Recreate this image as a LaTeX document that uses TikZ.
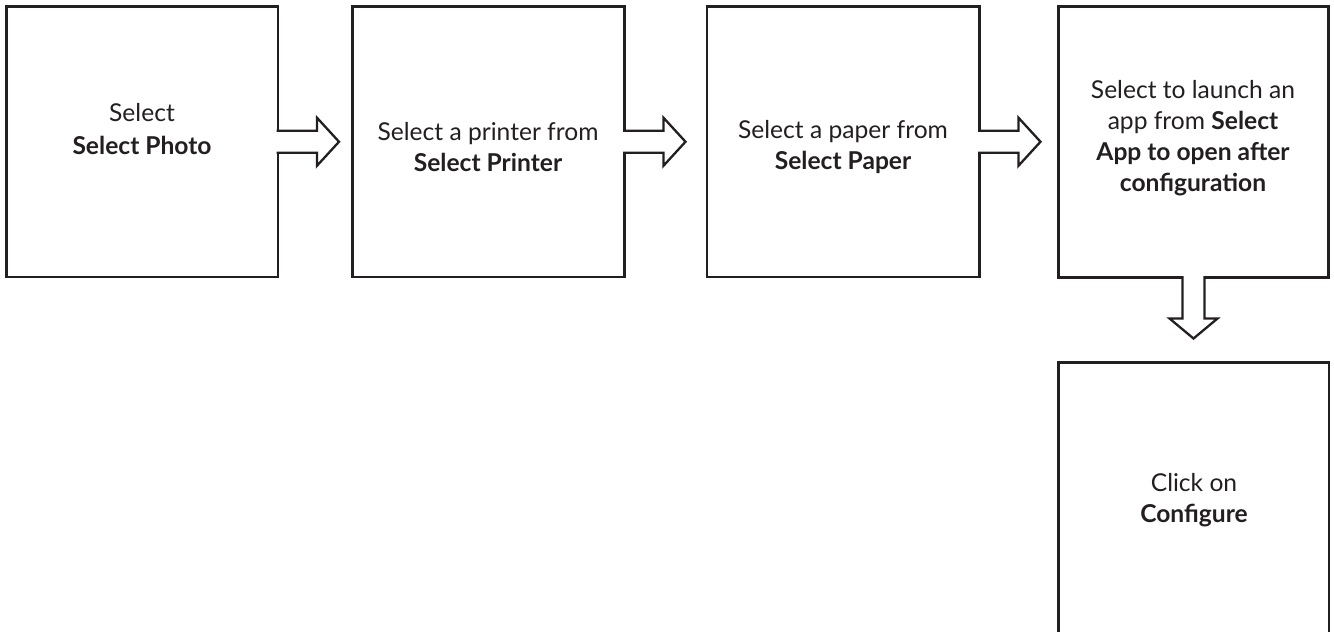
\documentclass[tikz,border=0pt]{standalone}
\usepackage{fontspec}
\setmainfont{Lato}
\usetikzlibrary{calc}
\definecolor{ink}{HTML}{231F20}
\begin{document}
\begin{tikzpicture}[x=0.5pt,y=-0.5pt,
  box/.style={draw=ink,line width=1.15pt,fill=white,inner sep=0pt,outer sep=0pt},
  arr/.style={draw=ink,fill=white,line width=1.15pt,line join=miter},
  txt/.style={align=center,text=ink,font=\fontsize{12.3pt}{15.6pt}\selectfont,inner sep=0pt}]
\useasboundingbox (0,0) rectangle (1334,632);
\clip (0,0) rectangle (1334,632);
\node[box,minimum width=271.5pt/2,minimum height=270.5pt/2] (b1) at (142.25,141.75) {};
\node[box,minimum width=272pt/2,minimum height=270.5pt/2] (b2) at (488.5,141.75) {};
\node[box,minimum width=272.5pt/2,minimum height=270.5pt/2] (b3) at (843.25,141.75) {};
\node[box,minimum width=270pt/2,minimum height=271pt/2] (b4) at (1193.5,142) {};
\node[box,minimum width=270.5pt/2,minimum height=297.5pt/2] (b5) at (1193.75,511.25) {};
\filldraw[arr] ($(b1.east)+(-1.5,-11)$) -- ++(40.5,0) -- ++(0,-13) -- ++(22,24) -- ++(-22,24) -- ++(0,-13) -- ++(-40.5,0);
\filldraw[arr] ($(b2.east)+(-1.5,-11)$) -- ++(40.5,0) -- ++(0,-13) -- ++(22,24) -- ++(-22,24) -- ++(0,-13) -- ++(-40.5,0);
\filldraw[arr] ($(b3.east)+(-1.5,-11)$) -- ++(40.5,0) -- ++(0,-13) -- ++(22,24) -- ++(-22,24) -- ++(0,-13) -- ++(-40.5,0);
\filldraw[arr] ($(b4.south)+(-11,-1.5)$) -- ++(0,42.5) -- ++(-13,0) -- ++(24,20) -- ++(24,-20) -- ++(-13,0) -- ++(0,-42.5);
\node[txt,font=\fontsize{12.3pt}{16.5pt}\selectfont] (t1) at (142,129) {Select\\\textbf{Select Photo}};
\node[txt] (t2) at (488,147) {Select a printer from\\\textbf{Select Printer}};
\node[txt] (t3) at (843,147) {Select a paper from\\\textbf{Select Paper}};
\node[txt] (t4) at (1193,138) {Select to launch an\\app from \textbf{Select}\\\textbf{App to open after}\\\textbf{configuration}};
\node[txt] (t5) at (1194,500) {Click on\\\textbf{Configure}};
\end{tikzpicture}
\end{document}
